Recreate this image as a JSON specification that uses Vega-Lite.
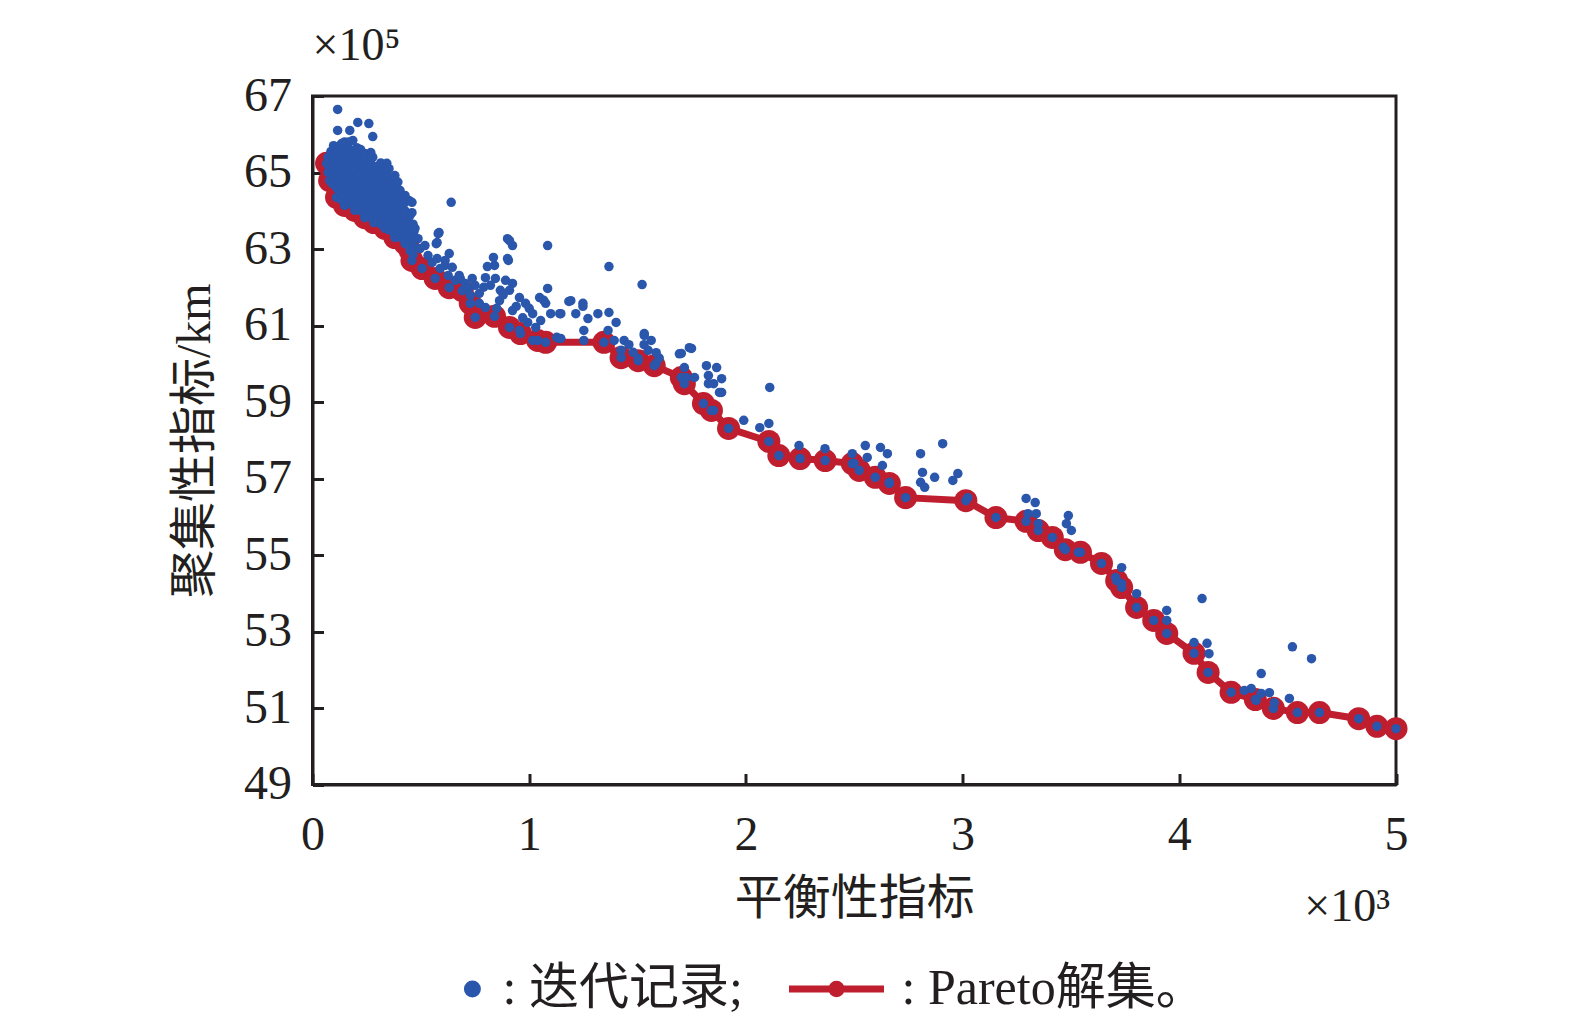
{
  "$schema": "https://vega.github.io/schema/vega-lite/v6.json",
  "width": 1083.5,
  "height": 688.5,
  "autosize": {"type": "none"},
  "padding": {"left": 312.5, "top": 96, "right": 179, "bottom": 238.5},
  "background": "white",
  "config": {
    "view": {"stroke": "#231f20", "strokeWidth": 3},
    "font": "Liberation Serif, Noto Sans CJK SC",
    "axis": {
      "grid": false, "domainColor": "#231f20", "domainWidth": 3,
      "tickColor": "#231f20", "tickWidth": 3, "tickSize": -11,
      "labelFont": "Liberation Serif, Noto Sans CJK SC", "labelFontSize": 48, "labelColor": "#231f20",
      "labelFlush": false, "labelOverlap": false,
      "titleFont": "Liberation Serif, Noto Sans CJK SC", "titleFontSize": 48, "titleFontWeight": "normal", "titleColor": "#231f20"
    }
  },
  "datasets": {
    "pareto": [
      {"x":0.065,"y":65.24},{"x":0.079,"y":64.79},{"x":0.111,"y":64.35},{"x":0.148,"y":64.14},{"x":0.195,"y":64.01},
      {"x":0.241,"y":63.82},{"x":0.283,"y":63.69},{"x":0.334,"y":63.54},{"x":0.38,"y":63.3},{"x":0.427,"y":63.14},
      {"x":0.45,"y":62.96},{"x":0.459,"y":62.7},{"x":0.506,"y":62.49},{"x":0.566,"y":62.23},{"x":0.631,"y":61.99},
      {"x":0.691,"y":61.91},{"x":0.728,"y":61.58},{"x":0.751,"y":61.21},{"x":0.84,"y":61.24},{"x":0.909,"y":60.95},
      {"x":0.96,"y":60.79},{"x":1.039,"y":60.61},{"x":1.076,"y":60.56},{"x":1.345,"y":60.56},{"x":1.424,"y":60.16},
      {"x":1.503,"y":60.08},{"x":1.577,"y":59.95},{"x":1.702,"y":59.64},{"x":1.716,"y":59.48},{"x":1.804,"y":58.96},
      {"x":1.841,"y":58.78},{"x":1.92,"y":58.31},{"x":2.106,"y":57.97},{"x":2.152,"y":57.6},{"x":2.25,"y":57.52},
      {"x":2.366,"y":57.47},{"x":2.491,"y":57.39},{"x":2.523,"y":57.21},{"x":2.597,"y":57.03},{"x":2.662,"y":56.87},
      {"x":2.737,"y":56.5},{"x":3.015,"y":56.42},{"x":3.154,"y":55.98},{"x":3.293,"y":55.88},{"x":3.349,"y":55.64},
      {"x":3.414,"y":55.46},{"x":3.474,"y":55.14},{"x":3.544,"y":55.07},{"x":3.641,"y":54.78},{"x":3.711,"y":54.33},
      {"x":3.734,"y":54.15},{"x":3.803,"y":53.63},{"x":3.882,"y":53.29},{"x":3.942,"y":52.95},{"x":4.068,"y":52.43},
      {"x":4.133,"y":51.93},{"x":4.239,"y":51.41},{"x":4.351,"y":51.22},{"x":4.434,"y":50.99},{"x":4.545,"y":50.88},
      {"x":4.647,"y":50.88},{"x":4.828,"y":50.72},{"x":4.912,"y":50.52},{"x":5.0,"y":50.46}
    ],
    "iter": [
      {"x":0.065,"y":65.24},{"x":0.079,"y":64.79},{"x":0.111,"y":64.35},{"x":0.148,"y":64.14},{"x":0.195,"y":64.01},
      {"x":0.241,"y":63.82},{"x":0.283,"y":63.69},{"x":0.334,"y":63.54},{"x":0.38,"y":63.3},{"x":0.427,"y":63.14},
      {"x":0.45,"y":62.96},{"x":0.459,"y":62.7},{"x":0.506,"y":62.49},{"x":0.566,"y":62.23},{"x":0.631,"y":61.99},
      {"x":0.691,"y":61.91},{"x":0.728,"y":61.58},{"x":0.751,"y":61.21},{"x":0.84,"y":61.24},{"x":0.909,"y":60.95},
      {"x":0.96,"y":60.79},{"x":1.039,"y":60.61},{"x":1.076,"y":60.56},{"x":1.345,"y":60.56},{"x":1.424,"y":60.16},
      {"x":1.503,"y":60.08},{"x":1.577,"y":59.95},{"x":1.702,"y":59.64},{"x":1.716,"y":59.48},{"x":1.804,"y":58.96},
      {"x":1.841,"y":58.78},{"x":1.92,"y":58.31},{"x":2.106,"y":57.97},{"x":2.152,"y":57.6},{"x":2.25,"y":57.52},
      {"x":2.366,"y":57.47},{"x":2.491,"y":57.39},{"x":2.523,"y":57.21},{"x":2.597,"y":57.03},{"x":2.662,"y":56.87},
      {"x":2.737,"y":56.5},{"x":3.015,"y":56.42},{"x":3.154,"y":55.98},{"x":3.293,"y":55.88},{"x":3.349,"y":55.64},
      {"x":3.414,"y":55.46},{"x":3.474,"y":55.14},{"x":3.544,"y":55.07},{"x":3.641,"y":54.78},{"x":3.711,"y":54.33},
      {"x":3.734,"y":54.15},{"x":3.803,"y":53.63},{"x":3.882,"y":53.29},{"x":3.942,"y":52.95},{"x":4.068,"y":52.43},
      {"x":4.133,"y":51.93},{"x":4.239,"y":51.41},{"x":4.351,"y":51.22},{"x":4.434,"y":50.99},{"x":4.545,"y":50.88},
      {"x":4.647,"y":50.88},{"x":4.828,"y":50.72},{"x":4.912,"y":50.52},{"x":5.0,"y":50.46},
      {"x":0.072,"y":65.0},{"x":0.072,"y":65.2},{"x":0.072,"y":65.4},{"x":0.082,"y":65.1},{"x":0.082,"y":65.3},{"x":0.085,"y":65.55},
      {"x":0.093,"y":64.7},{"x":0.097,"y":64.9},{"x":0.093,"y":65.1},{"x":0.097,"y":65.3},{"x":0.093,"y":65.5},{"x":0.097,"y":65.7},
      {"x":0.112,"y":64.6},{"x":0.112,"y":64.8},{"x":0.112,"y":65.0},{"x":0.112,"y":65.2},{"x":0.112,"y":65.4},{"x":0.112,"y":65.6},
      {"x":0.13,"y":64.3},{"x":0.126,"y":64.5},{"x":0.13,"y":64.7},{"x":0.126,"y":64.9},{"x":0.13,"y":65.1},{"x":0.126,"y":65.3},{"x":0.13,"y":65.5},{"x":0.126,"y":65.7},
      {"x":0.148,"y":64.4},{"x":0.148,"y":64.6},{"x":0.148,"y":64.8},{"x":0.148,"y":65.0},{"x":0.148,"y":65.2},{"x":0.148,"y":65.4},{"x":0.148,"y":65.6},{"x":0.148,"y":65.8},
      {"x":0.167,"y":64.2},{"x":0.171,"y":64.4},{"x":0.167,"y":64.6},{"x":0.171,"y":64.8},{"x":0.167,"y":65.0},{"x":0.171,"y":65.2},{"x":0.167,"y":65.4},{"x":0.171,"y":65.6},{"x":0.167,"y":65.8},
      {"x":0.185,"y":64.15},{"x":0.185,"y":64.35},{"x":0.185,"y":64.55},{"x":0.185,"y":64.75},{"x":0.185,"y":64.95},{"x":0.185,"y":65.15},{"x":0.185,"y":65.35},{"x":0.185,"y":65.55},
      {"x":0.204,"y":64.05},{"x":0.2,"y":64.25},{"x":0.204,"y":64.45},{"x":0.2,"y":64.65},{"x":0.204,"y":64.85},{"x":0.2,"y":65.05},{"x":0.204,"y":65.25},{"x":0.2,"y":65.45},{"x":0.204,"y":65.65},
      {"x":0.222,"y":64.0},{"x":0.222,"y":64.2},{"x":0.222,"y":64.4},{"x":0.222,"y":64.6},{"x":0.222,"y":64.8},{"x":0.222,"y":65.0},{"x":0.222,"y":65.2},{"x":0.222,"y":65.4},{"x":0.222,"y":65.6},
      {"x":0.241,"y":63.9},{"x":0.245,"y":64.1},{"x":0.241,"y":64.3},{"x":0.245,"y":64.5},{"x":0.241,"y":64.7},{"x":0.245,"y":64.9},{"x":0.241,"y":65.1},{"x":0.245,"y":65.3},{"x":0.241,"y":65.5},
      {"x":0.26,"y":63.85},{"x":0.26,"y":64.05},{"x":0.26,"y":64.25},{"x":0.26,"y":64.45},{"x":0.26,"y":64.65},{"x":0.26,"y":64.85},{"x":0.26,"y":65.05},{"x":0.26,"y":65.25},
      {"x":0.278,"y":63.8},{"x":0.274,"y":64.0},{"x":0.278,"y":64.2},{"x":0.274,"y":64.4},{"x":0.278,"y":64.6},{"x":0.274,"y":64.8},{"x":0.278,"y":65.0},{"x":0.274,"y":65.2},{"x":0.278,"y":65.4},
      {"x":0.297,"y":63.75},{"x":0.297,"y":63.95},{"x":0.297,"y":64.15},{"x":0.297,"y":64.35},{"x":0.297,"y":64.55},{"x":0.297,"y":64.75},{"x":0.297,"y":64.95},{"x":0.297,"y":65.15},
      {"x":0.315,"y":63.65},{"x":0.319,"y":63.85},{"x":0.315,"y":64.05},{"x":0.319,"y":64.25},{"x":0.315,"y":64.45},{"x":0.319,"y":64.65},{"x":0.315,"y":64.85},{"x":0.319,"y":65.05},{"x":0.315,"y":65.25},
      {"x":0.334,"y":63.6},{"x":0.334,"y":63.8},{"x":0.334,"y":64.0},{"x":0.334,"y":64.2},{"x":0.334,"y":64.4},{"x":0.334,"y":64.6},{"x":0.334,"y":64.8},{"x":0.334,"y":65.0},
      {"x":0.353,"y":63.5},{"x":0.349,"y":63.7},{"x":0.353,"y":63.9},{"x":0.349,"y":64.1},{"x":0.353,"y":64.3},{"x":0.349,"y":64.5},{"x":0.353,"y":64.7},{"x":0.349,"y":64.9},{"x":0.353,"y":65.1},
      {"x":0.372,"y":63.45},{"x":0.372,"y":63.65},{"x":0.372,"y":63.85},{"x":0.372,"y":64.05},{"x":0.372,"y":64.25},{"x":0.372,"y":64.45},{"x":0.372,"y":64.65},{"x":0.372,"y":64.85},
      {"x":0.39,"y":63.35},{"x":0.394,"y":63.55},{"x":0.39,"y":63.75},{"x":0.394,"y":63.95},{"x":0.39,"y":64.15},{"x":0.394,"y":64.35},{"x":0.39,"y":64.55},{"x":0.394,"y":64.75},
      {"x":0.41,"y":63.3},{"x":0.41,"y":63.5},{"x":0.41,"y":63.7},{"x":0.41,"y":63.9},{"x":0.41,"y":64.1},{"x":0.41,"y":64.3},
      {"x":0.427,"y":63.2},{"x":0.423,"y":63.4},{"x":0.427,"y":63.6},{"x":0.423,"y":63.8},{"x":0.427,"y":64.0},{"x":0.423,"y":64.2},{"x":0.427,"y":64.4},
      {"x":0.445,"y":63.1},{"x":0.445,"y":63.3},{"x":0.445,"y":63.5},{"x":0.445,"y":63.7},
      {"x":0.464,"y":62.85},{"x":0.468,"y":63.05},{"x":0.464,"y":63.25},{"x":0.468,"y":63.45},{"x":0.464,"y":63.65},
      {"x":0.116,"y":66.65},{"x":0.116,"y":66.1},{"x":0.209,"y":66.31},{"x":0.26,"y":66.28},{"x":0.278,"y":65.94},
      {"x":0.269,"y":65.52},{"x":0.172,"y":66.1},{"x":0.186,"y":65.84},{"x":0.135,"y":65.76},{"x":0.343,"y":65.24},
      {"x":0.38,"y":64.92},{"x":0.404,"y":64.53},{"x":0.445,"y":64.27},{"x":0.45,"y":63.88},{"x":0.64,"y":64.22},
      {"x":0.58,"y":63.4},{"x":0.571,"y":63.14},{"x":0.9,"y":63.27},{"x":0.923,"y":63.09},{"x":0.904,"y":62.7},
      {"x":0.835,"y":62.78},{"x":1.085,"y":63.09},{"x":1.368,"y":62.54},{"x":1.521,"y":62.07},{"x":1.183,"y":61.63},
      {"x":1.248,"y":61.5},{"x":1.136,"y":60.66},{"x":1.531,"y":60.79},{"x":1.739,"y":60.42},{"x":1.693,"y":60.26},
      {"x":0.459,"y":64.22},{"x":0.459,"y":63.95},{"x":0.473,"y":63.54},{"x":0.487,"y":63.27},{"x":0.496,"y":63.01},
      {"x":0.519,"y":63.09},{"x":0.533,"y":62.83},{"x":0.552,"y":62.65},{"x":0.575,"y":62.75},{"x":0.584,"y":63.43},
      {"x":0.575,"y":63.17},{"x":0.589,"y":62.49},{"x":0.612,"y":62.57},{"x":0.631,"y":62.88},{"x":0.612,"y":62.7},
      {"x":0.645,"y":62.52},{"x":0.626,"y":62.31},{"x":0.659,"y":62.18},{"x":0.677,"y":62.31},{"x":0.682,"y":62.23},
      {"x":0.705,"y":62.1},{"x":0.719,"y":61.97},{"x":0.737,"y":62.23},{"x":0.798,"y":62.25},{"x":0.844,"y":62.23},
      {"x":0.891,"y":62.18},{"x":0.923,"y":62.1},{"x":0.909,"y":61.92},{"x":0.955,"y":61.73},{"x":0.983,"y":61.58},
      {"x":1.048,"y":61.73},{"x":1.085,"y":61.97},{"x":1.076,"y":61.58},{"x":1.016,"y":61.31},{"x":1.141,"y":61.31},
      {"x":0.77,"y":61.84},{"x":0.77,"y":61.58},{"x":0.798,"y":61.47},{"x":0.863,"y":61.65},{"x":0.923,"y":61.39},
      {"x":0.955,"y":60.87},{"x":1.016,"y":60.61},{"x":1.127,"y":60.69},{"x":0.84,"y":62.57},{"x":0.909,"y":63.22},
      {"x":0.9,"y":62.75},{"x":0.807,"y":62.54},{"x":0.821,"y":62.05},{"x":0.867,"y":61.92},{"x":0.728,"y":61.79},
      {"x":0.993,"y":61.08},{"x":1.053,"y":61.13},{"x":0.79,"y":62.0},{"x":0.75,"y":62.05},{"x":0.85,"y":61.45},
      {"x":0.88,"y":61.8},{"x":0.94,"y":61.5},{"x":0.97,"y":61.2},{"x":1.0,"y":61.45},{"x":1.03,"y":60.95},
      {"x":1.067,"y":61.66},{"x":1.099,"y":61.31},{"x":1.146,"y":61.31},{"x":1.192,"y":61.65},{"x":1.248,"y":61.58},
      {"x":1.215,"y":61.31},{"x":1.271,"y":61.18},{"x":1.252,"y":60.87},{"x":1.317,"y":61.31},{"x":1.368,"y":61.34},
      {"x":1.401,"y":61.08},{"x":1.364,"y":60.87},{"x":1.392,"y":60.61},{"x":1.438,"y":60.61},{"x":1.424,"y":60.35},
      {"x":1.531,"y":60.74},{"x":1.563,"y":60.61},{"x":1.549,"y":60.35},{"x":1.586,"y":60.29},{"x":1.586,"y":60.01},
      {"x":1.503,"y":60.14},{"x":1.146,"y":60.66},{"x":1.252,"y":60.61},{"x":1.749,"y":60.4},{"x":1.702,"y":60.27},
      {"x":1.716,"y":59.9},{"x":1.725,"y":59.64},{"x":1.763,"y":59.64},{"x":1.827,"y":59.69},{"x":1.865,"y":59.9},
      {"x":1.888,"y":59.61},{"x":1.827,"y":59.48},{"x":1.888,"y":59.25},{"x":1.851,"y":58.78},{"x":1.99,"y":58.52},
      {"x":2.064,"y":58.33},{"x":2.106,"y":58.44},{"x":2.11,"y":59.38},{"x":1.818,"y":59.95},{"x":1.851,"y":59.48},
      {"x":1.878,"y":59.25},{"x":1.46,"y":60.5},{"x":1.48,"y":60.3},{"x":1.53,"y":60.5},{"x":1.6,"y":60.15},
      {"x":2.245,"y":57.86},{"x":2.365,"y":57.78},{"x":2.491,"y":57.65},{"x":2.5,"y":57.39},{"x":2.551,"y":57.86},
      {"x":2.56,"y":57.55},{"x":2.621,"y":57.81},{"x":2.653,"y":57.65},{"x":2.63,"y":57.34},{"x":2.662,"y":56.9},
      {"x":2.806,"y":57.65},{"x":2.908,"y":57.91},{"x":2.815,"y":57.16},{"x":2.871,"y":57.03},{"x":2.806,"y":56.9},
      {"x":2.825,"y":56.77},{"x":2.955,"y":56.95},{"x":2.978,"y":57.13},{"x":3.024,"y":56.5},{"x":3.293,"y":56.48},
      {"x":3.335,"y":56.37},{"x":3.302,"y":56.08},{"x":3.34,"y":56.08},{"x":3.349,"y":55.82},{"x":3.488,"y":56.03},
      {"x":3.479,"y":55.82},{"x":3.502,"y":55.64},{"x":3.465,"y":55.2},{"x":3.534,"y":55.07},{"x":3.734,"y":54.67},
      {"x":3.706,"y":54.41},{"x":3.734,"y":54.25},{"x":3.803,"y":53.99},{"x":4.105,"y":53.86},{"x":3.942,"y":53.55},
      {"x":3.942,"y":53.29},{"x":4.068,"y":52.71},{"x":4.128,"y":52.69},{"x":4.137,"y":52.42},{"x":4.378,"y":51.9},
      {"x":4.522,"y":52.6},{"x":4.61,"y":52.29},{"x":4.332,"y":51.51},{"x":4.378,"y":51.38},{"x":4.439,"y":51.14},
      {"x":4.508,"y":51.25},{"x":4.355,"y":51.2},{"x":4.3,"y":51.46},{"x":4.416,"y":51.4}
    ]
  },
  "layer": [
    {
      "data": {"name": "pareto"},
      "mark": {"type": "line", "strokeWidth": 7, "point": {"filled": true, "size": 530, "opacity": 1}},
      "encoding": {
        "x": {"field": "x", "type": "quantitative",
              "scale": {"domain": [0, 5], "nice": false, "zero": false},
              "axis": {"values": [0, 1, 2, 3, 4, 5], "format": "d", "title": "平衡性指标", "labelPadding": 38, "titlePadding": 16}},
        "y": {"field": "y", "type": "quantitative",
              "scale": {"domain": [49, 67], "nice": false, "zero": false},
              "axis": {"values": [49, 51, 53, 55, 57, 59, 61, 63, 65, 67], "format": "d", "title": "聚集性指标/km", "labelPadding": 32, "titlePadding": 24}},
        "color": {"datum": "Pareto解集",
                  "scale": {"domain": ["迭代记录", "Pareto解集"], "range": ["#2a56ab", "#bf1e2e"]},
                  "legend": {
                    "orient": "none", "legendX": 74, "legendY": 842, "direction": "horizontal",
                    "title": null, "symbolSize": 9025, "symbolStrokeWidth": 7, "labelOffset": 14,
                    "columnPadding": 31, "padding": 0, "labelLimit": 0,
                    "labelFont": "Liberation Serif, Noto Sans CJK SC", "labelFontSize": 50, "labelColor": "#231f20",
                    "labelExpr": "datum.label == '迭代记录' ? ': 迭代记录;' : ': Pareto解集。'",
                    "encode": {"symbols": {"update": {
                      "shape": {"signal": "datum.value == 'Pareto解集' ? 'M-1,0L1,0M0.1,0A0.1,0.1,0,1,1,-0.1,0A0.1,0.1,0,1,1,0.1,0Z' : 'M0.84,0A0.105,0.105,0,1,1,0.63,0A0.105,0.105,0,1,1,0.84,0Z'"},
                      "fill": {"signal": "datum.value == 'Pareto解集' ? '#bf1e2e' : '#3a64b8'"},
                      "stroke": {"signal": "datum.value == 'Pareto解集' ? '#bf1e2e' : null"},
                      "opacity": {"value": 1}, "fillOpacity": {"value": 1}
                    }}}
                  }}
      }
    },
    {
      "data": {"name": "iter"},
      "mark": {"type": "circle", "size": 90, "opacity": 1},
      "encoding": {
        "x": {"field": "x", "type": "quantitative"},
        "y": {"field": "y", "type": "quantitative"},
        "color": {"datum": "迭代记录"}
      }
    },
    {
      "data": {"values": [{}]},
      "mark": {"type": "text", "align": "left", "baseline": "middle", "dy": -50, "fontSize": 46, "color": "#231f20", "font": "Liberation Serif, DejaVu Serif"},
      "encoding": {"x": {"datum": 0}, "y": {"datum": 67}, "text": {"value": "×10⁵"}}
    },
    {
      "data": {"values": [{}]},
      "mark": {"type": "text", "align": "right", "baseline": "middle", "dx": -6, "dy": 122, "fontSize": 46, "color": "#231f20", "font": "Liberation Serif, DejaVu Serif"},
      "encoding": {"x": {"datum": 5}, "y": {"datum": 49}, "text": {"value": "×10³"}}
    }
  ]
}
